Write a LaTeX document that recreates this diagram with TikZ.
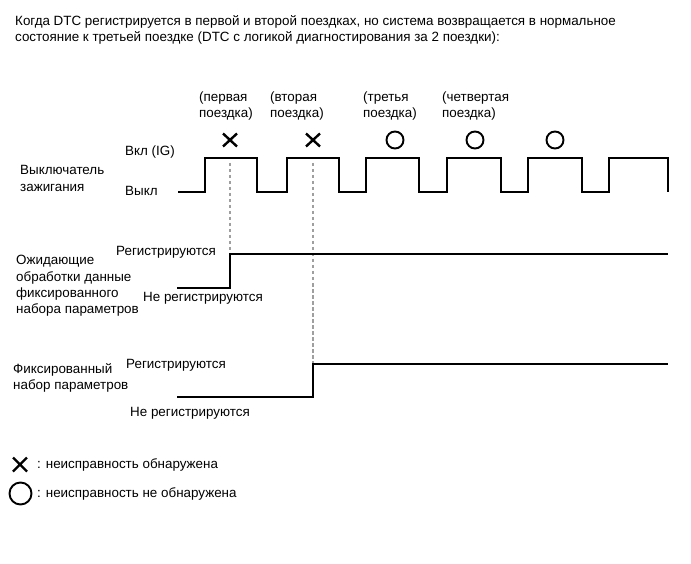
\documentclass[tikz,border=0pt]{standalone}
\usepackage{fontspec}
\setmainfont{Liberation Sans}
\begin{document}
\begin{tikzpicture}[x=1pt,y=-1pt,
  txt/.style={inner sep=0pt, anchor=west, font=\fontsize{13.4}{16.3}\selectfont, align=left},
  wave/.style={line width=1.2pt, line join=miter},
  guide/.style={line width=1.3pt, gray!75, dash pattern=on 3.5pt off 2.5pt},
  xmark/.style={line width=2.4pt},
  omark/.style={line width=1.9pt}]
\useasboundingbox[fill=white] (0,0) rectangle (691,564);

% title
\node[txt] (title) at (15,30) {Когда DTC регистрируется в первой и второй поездках, но система возвращается в нормальное\\состояние к третьей поездке (DTC с логикой диагностирования за 2 поездки):};

% trip labels
\node[txt] (t1) at (199,106) {(первая\\поездка)};
\node[txt] (t2) at (270,106) {(вторая\\поездка)};
\node[txt] (t3) at (363,106) {(третья\\поездка)};
\node[txt] (t4) at (442,106) {(четвертая\\поездка)};

% marks
\foreach \n/\cx in {x1/230, x2/313}{
  \coordinate (\n) at (\cx,140);
  \draw[xmark] ([shift={(-7,-6.5)}]\n) -- ([shift={(7,6.5)}]\n) ([shift={(-7,6.5)}]\n) -- ([shift={(7,-6.5)}]\n);
}
\foreach \n/\cx in {o1/395, o2/475, o3/555}{
  \node[draw, omark, circle, minimum size=17pt, inner sep=0pt] (\n) at (\cx,140) {};
}

% ignition switch
\node[txt] (ig) at (20,178.5) {Выключатель\\зажигания};
\node[txt] (on) at (125,152) {Вкл (IG)};
\node[txt] (off) at (125,191) {Выкл};
\draw[wave] (178,192) -- (205,192) -- (205,158) -- (257,158) -- (257,192)
  -- (287,192) -- (287,158) -- (339,158) -- (339,192)
  -- (366,192) -- (366,158) -- (419,158) -- (419,192)
  -- (447,192) -- (447,158) -- (501,158) -- (501,192)
  -- (528,192) -- (528,158) -- (582,158) -- (582,192)
  -- (609,192) -- (609,158) -- (668,158) -- (668,192);

% dashed guides
\draw[guide] (230,163) -- (230,254);
\draw[guide] (313,163) -- (313,364);

% pending freeze frame
\node[txt] (pend) at (16,286) {Ожидающие\\обработки данные\\фиксированного\\набора параметров};
\node[txt] (r1) at (116,252) {Регистрируются};
\node[txt] (n1) at (143,298) {Не регистрируются};
\draw[wave] (177,288) -- (230,288) -- (230,254) -- (668,254);

% freeze frame
\node[txt] (ff) at (13,378) {Фиксированный\\набор параметров};
\node[txt] (r2) at (126,365) {Регистрируются};
\node[txt] (n2) at (130,413) {Не регистрируются};
\draw[wave] (177,397) -- (313,397) -- (313,364) -- (668,364);

% legend
\coordinate (lx) at (20,464.5);
\draw[xmark] ([shift={(-7,-7)}]lx) -- ([shift={(7,7)}]lx) ([shift={(-7,7)}]lx) -- ([shift={(7,-7)}]lx);
\node[txt] (lxt) at (37,464.5) {: неисправность обнаружена};
\node[draw, omark, circle, minimum size=22pt, inner sep=0pt] (lo) at (20.5,493.5) {};
\node[txt] (lot) at (37,493.5) {: неисправность не обнаружена};
\end{tikzpicture}
\end{document}
